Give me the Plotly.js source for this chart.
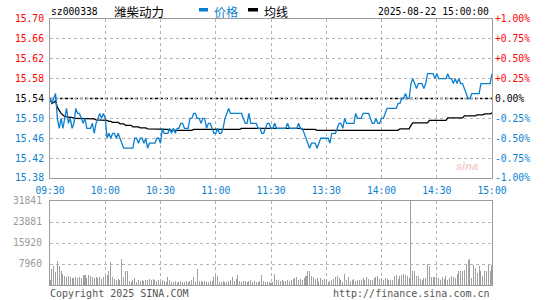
<!DOCTYPE html>
<html><head><meta charset="utf-8">
<script src="https://cdn.plot.ly/plotly-3.0.1.min.js"></script>
<style>html,body{margin:0;padding:0;background:#fff}#chart{width:545px;height:300px}</style>
</head><body><div id="chart"></div>
<script>
const stockCode = 'sz000338';
const stockName = '潍柴动力';
const stamp = '2025-08-22 15:00:00';
const prevClose = 15.54;

const xTickVals = [0, 30, 60, 90, 120, 150, 180, 210, 240];
const xTickText = ['09:30', '10:00', '10:30', '11:00', '11:30', '13:30', '14:00', '14:30', '15:00'];

const priceTicks = [15.38, 15.42, 15.46, 15.50, 15.54, 15.58, 15.62, 15.66, 15.70];
const priceTickText = ['15.38', '15.42', '15.46', '15.50', '15.54', '15.58', '15.62', '15.66', '15.70'];
const pctTickText = ['-1.00%', '-0.75%', '-0.50%', '-0.25%', '0.00%', '+0.25%', '+0.50%', '+0.75%', '+1.00%'];

const volTicks = [7960, 15920, 23881, 31841];
const volTickText = ['7960', '15920', '23881', '31841'];

// one value per trading minute, 09:30 .. 11:30 | 13:01 .. 15:00
const price = [
 15.54,15.53,15.54,15.55,15.50,15.48,15.50,15.48,15.50,15.52,
 15.49,15.50,15.48,15.49,15.52,15.51,15.51,15.50,15.49,15.50,
 15.48,15.48,15.48,15.49,15.47,15.49,15.50,15.51,15.50,15.51,
 15.50,15.46,15.47,15.46,15.47,15.47,15.46,15.47,15.46,15.45,
 15.44,15.44,15.44,15.44,15.44,15.44,15.46,15.46,15.45,15.46,
 15.46,15.45,15.46,15.44,15.45,15.45,15.45,15.45,15.46,15.46,
 15.45,15.48,15.47,15.47,15.47,15.48,15.47,15.48,15.47,15.48,
 15.48,15.49,15.49,15.48,15.48,15.48,15.50,15.50,15.51,15.51,
 15.50,15.50,15.49,15.50,15.50,15.48,15.49,15.49,15.48,15.47,
 15.47,15.48,15.47,15.47,15.48,15.50,15.51,15.52,15.51,15.51,
 15.51,15.51,15.51,15.51,15.51,15.50,15.49,15.49,15.51,15.49,
 15.49,15.49,15.49,15.48,15.48,15.47,15.47,15.48,15.49,15.49,
 15.48,15.48,15.49,15.48,15.48,15.48,15.48,15.48,15.48,15.49,
 15.48,15.48,15.48,15.48,15.48,15.49,15.48,15.48,15.47,15.46,
 15.45,15.44,15.45,15.45,15.45,15.44,15.45,15.46,15.46,15.46,
 15.46,15.46,15.45,15.47,15.47,15.47,15.48,15.49,15.49,15.48,
 15.50,15.49,15.49,15.49,15.49,15.49,15.51,15.50,15.50,15.50,
 15.51,15.51,15.51,15.51,15.50,15.49,15.49,15.50,15.49,15.49,
 15.50,15.50,15.51,15.52,15.52,15.52,15.52,15.52,15.52,15.53,
 15.53,15.54,15.54,15.55,15.54,15.54,15.57,15.58,15.57,15.56,
 15.57,15.57,15.57,15.56,15.57,15.59,15.59,15.59,15.59,15.58,
 15.59,15.58,15.58,15.58,15.58,15.58,15.59,15.58,15.58,15.57,
 15.58,15.57,15.58,15.57,15.57,15.56,15.55,15.54,15.54,15.55,
 15.55,15.55,15.55,15.55,15.57,15.57,15.57,15.57,15.57,15.57,
 15.59
];

const avgPrice = [
 15.540,15.530,15.532,15.535,15.522,15.515,15.510,15.507,15.504,15.503,
 15.502,15.502,15.502,15.500,15.500,15.500,15.500,15.500,15.500,15.500,
 15.499,15.499,15.499,15.499,15.499,15.497,15.497,15.497,15.497,15.497,
 15.497,15.496,15.494,15.494,15.492,15.492,15.492,15.492,15.489,15.489,
 15.489,15.486,15.486,15.486,15.486,15.483,15.483,15.483,15.483,15.481,
 15.481,15.481,15.481,15.479,15.479,15.479,15.479,15.479,15.478,15.478,
 15.478,15.478,15.478,15.478,15.478,15.476,15.476,15.476,15.476,15.476,
 15.476,15.476,15.476,15.476,15.476,15.476,15.476,15.476,15.478,15.478,
 15.478,15.478,15.478,15.478,15.478,15.478,15.478,15.478,15.478,15.478,
 15.478,15.478,15.478,15.478,15.478,15.478,15.478,15.478,15.478,15.478,
 15.478,15.478,15.478,15.478,15.480,15.480,15.480,15.480,15.480,15.480,
 15.480,15.480,15.480,15.480,15.480,15.480,15.480,15.480,15.480,15.480,
 15.480,15.480,15.480,15.480,15.480,15.480,15.480,15.480,15.480,15.480,
 15.480,15.480,15.480,15.480,15.480,15.480,15.480,15.478,15.478,15.478,
 15.478,15.478,15.478,15.478,15.478,15.476,15.476,15.476,15.476,15.476,
 15.476,15.476,15.476,15.476,15.476,15.476,15.476,15.476,15.476,15.476,
 15.476,15.476,15.476,15.476,15.476,15.476,15.476,15.476,15.476,15.476,
 15.476,15.476,15.476,15.476,15.476,15.476,15.476,15.476,15.476,15.476,
 15.476,15.476,15.476,15.476,15.476,15.476,15.476,15.476,15.476,15.476,
 15.479,15.479,15.479,15.479,15.479,15.479,15.486,15.491,15.491,15.491,
 15.491,15.491,15.491,15.491,15.491,15.491,15.496,15.496,15.496,15.496,
 15.496,15.496,15.496,15.496,15.496,15.496,15.501,15.501,15.501,15.501,
 15.501,15.501,15.501,15.501,15.501,15.505,15.505,15.505,15.505,15.505,
 15.505,15.505,15.507,15.507,15.507,15.507,15.509,15.509,15.509,15.509,
 15.511
];

const volume = [
 2020,6190,7330,4800,9230,7330,5440,4300,3540,3030,
 3290,2910,2780,2650,3030,2650,2910,2650,3920,3920,
 2650,3790,3540,3030,2650,2910,2650,3030,2280,3030,
 3540,3920,5180,8850,3030,2280,2020,2280,2020,9990,
 3030,5180,5440,1390,1010,1770,2650,1010,1770,1390,
 1770,1640,2020,1770,2280,2020,2280,1770,1390,2020,
 1010,1770,1390,1010,3030,2020,1260,1260,1520,1010,
 1260,1520,1260,1010,1520,1260,1390,1770,3030,1260,
 6190,1390,1390,1260,1520,1010,1260,1520,1520,2910,
 3540,3290,1010,1260,1520,1260,1010,1390,2020,3030,
 1390,2280,3920,1390,1260,1390,1520,1260,1390,2020,
 1260,1390,1010,1260,1520,3920,1390,1260,1010,1260,
 760,1260,4300,2020,1770,1520,1770,1520,1640,1770,
 1520,2020,2280,2650,3030,1770,2280,1770,2650,3540,
 5180,5440,3290,3030,2280,2650,1390,2650,1770,2280,
 1770,1010,1390,2020,2280,3030,3290,2650,1770,1010,
 4300,1770,3030,1390,2020,2280,1390,1770,2020,1770,
 2650,2020,3030,2280,2020,1770,2650,3030,3540,2280,
 2650,1770,2650,2280,1770,2020,1770,3290,3920,2280,
 3540,3920,4300,3920,3540,2650,31841,5180,5180,3540,
 3290,2280,1770,2650,2650,8090,7080,3030,3030,3030,
 3030,2650,2020,3030,2280,3540,2020,2650,3540,3030,
 2650,4300,5180,5440,5180,5810,7710,9610,9990,2650,
 7710,6450,4550,7080,5180,3540,5180,5180,7710,5180,
 7710
];

const minuteIndex = price.map((_, i) => i);

const UP = '#ff0000', DOWN = '#0a7fd0', FLAT = '#000000';
const BLUE = '#0a7fd0';
const MONO = 'DejaVu Sans Mono, Liberation Mono, monospace';
const CJK = 'Noto Sans CJK SC, sans-serif';
const FS = 9.7;

function colorFor(v) { return v > prevClose + 1e-9 ? UP : (v < prevClose - 1e-9 ? DOWN : FLAT); }
const priceTickColored = priceTicks.map((v, i) => `<span style="color:${colorFor(v)}">${priceTickText[i]}</span>`);
const pctTickColored = priceTicks.map((v, i) => `<span style="color:${colorFor(v)}">${pctTickText[i]}</span>`);

// pixel helpers for paper-positioned decorations
const L = 50, R = 492, T = 19, B = 285;
const px = x => (x - L) / (R - L);
const py = y => (B - y) / (B - T);

const grid = { showgrid: true, gridcolor: '#b4b4b4', griddash: 'dot', gridwidth: 1 };
const frame = { showline: true, mirror: true, linecolor: '#9c9c9c', linewidth: 1, zeroline: false, ticks: '', fixedrange: true };

const traces = [
  { type: 'bar', x: minuteIndex, y: volume, xaxis: 'x2', yaxis: 'y2',
    marker: { color: '#a0a0a0', line: { width: 0 } }, width: 0.55, hoverinfo: 'skip' },
  { type: 'scatter', mode: 'lines', x: minuteIndex, y: avgPrice, xaxis: 'x', yaxis: 'y',
    line: { color: '#000000', width: 1.3 }, hoverinfo: 'skip' },
  { type: 'scatter', mode: 'lines', x: minuteIndex, y: price, xaxis: 'x', yaxis: 'y',
    line: { color: BLUE, width: 1.3 }, hoverinfo: 'skip' },
  { type: 'scatter', mode: 'lines', x: [0], y: [prevClose], xaxis: 'x', yaxis: 'y3',
    line: { width: 0 }, hoverinfo: 'skip' }
];

const layout = {
  width: 545, height: 300,
  margin: { l: L, r: 545 - R, t: T, b: 300 - B, pad: 0 },
  paper_bgcolor: '#ffffff', plot_bgcolor: '#ffffff',
  showlegend: false, bargap: 0,
  font: { family: MONO, size: FS, color: '#000' },
  xaxis: Object.assign({ domain: [0, 1], anchor: 'y', range: [0, 240], tickmode: 'array',
    tickvals: xTickVals, ticktext: xTickText, tickfont: { color: BLUE, size: FS, family: MONO },
    ticklabelstandoff: 3 }, grid, frame),
  xaxis2: Object.assign({ domain: [0, 1], anchor: 'y2', matches: 'x', range: [0, 240], tickmode: 'array',
    tickvals: xTickVals, showticklabels: false }, grid, frame),
  yaxis: Object.assign({ domain: [py(178), 1], anchor: 'x', range: [15.38, 15.70], tickmode: 'array',
    tickvals: priceTicks, ticktext: priceTickColored, tickfont: { size: FS, family: MONO },
    ticklabelstandoff: 3 }, grid, frame),
  yaxis3: { overlaying: 'y', anchor: 'x', side: 'right', range: [15.38, 15.70], tickmode: 'array',
    tickvals: priceTicks, ticktext: pctTickColored, tickfont: { size: FS, family: MONO },
    showgrid: false, showline: false, zeroline: false, ticks: '', ticklabelstandoff: 2, fixedrange: true },
  yaxis2: Object.assign({ domain: [0, py(201)], anchor: 'x2', range: [0, 31841], tickmode: 'array',
    tickvals: volTicks, ticktext: volTickText, tickfont: { size: FS, family: MONO, color: '#999999' },
    ticklabelstandoff: 5 }, grid, frame),
  shapes: [
    { type: 'line', xref: 'x', yref: 'y', x0: 0, x1: 240, y0: prevClose, y1: prevClose, layer: 'below',
      line: { color: '#000', width: 1.5, dash: '3px,2px' } },
    { type: 'rect', xref: 'paper', yref: 'paper', x0: px(199), x1: px(208), y0: py(11.5), y1: py(8),
      fillcolor: BLUE, line: { width: 0 } },
    { type: 'rect', xref: 'paper', yref: 'paper', x0: px(248), x1: px(258), y0: py(11.5), y1: py(8),
      fillcolor: '#000', line: { width: 0 } }
  ],
  annotations: [
    { text: stockCode, xref: 'paper', yref: 'paper', x: px(49), y: py(11), xanchor: 'left', yanchor: 'middle',
      showarrow: false, font: { family: MONO, size: FS, color: '#000' } },
    { text: stockName, xref: 'paper', yref: 'paper', x: px(112), y: py(11), xanchor: 'left', yanchor: 'middle',
      showarrow: false, font: { family: CJK, size: 12.5, color: '#000' } },
    { text: '价格', xref: 'paper', yref: 'paper', x: px(212), y: py(11), xanchor: 'left', yanchor: 'middle',
      showarrow: false, font: { family: CJK, size: 12, color: BLUE } },
    { text: '均线', xref: 'paper', yref: 'paper', x: px(262), y: py(11), xanchor: 'left', yanchor: 'middle',
      showarrow: false, font: { family: CJK, size: 12, color: '#000' } },
    { text: stamp, xref: 'paper', yref: 'paper', x: px(491), y: py(11), xanchor: 'right', yanchor: 'middle',
      showarrow: false, font: { family: MONO, size: FS, color: '#000' } },
    { text: 'Copyright 2025 SINA.COM', xref: 'paper', yref: 'paper', x: px(48), y: py(293), xanchor: 'left', yanchor: 'middle',
      showarrow: false, font: { family: MONO, size: 10, color: '#555' } },
    { text: 'http://finance.sina.com.cn', xref: 'paper', yref: 'paper', x: px(492), y: py(293), xanchor: 'right', yanchor: 'middle',
      showarrow: false, font: { family: MONO, size: 10, color: '#555' } },
    { text: '<b><i>sina</i></b>', xref: 'paper', yref: 'paper', x: px(467), y: py(166), xanchor: 'center', yanchor: 'middle',
      showarrow: false, font: { family: 'Liberation Sans, sans-serif', size: 11, color: '#f3cccc' } }
  ]
};

Plotly.newPlot('chart', traces, layout, { displayModeBar: false, staticPlot: true });
</script></body></html>
